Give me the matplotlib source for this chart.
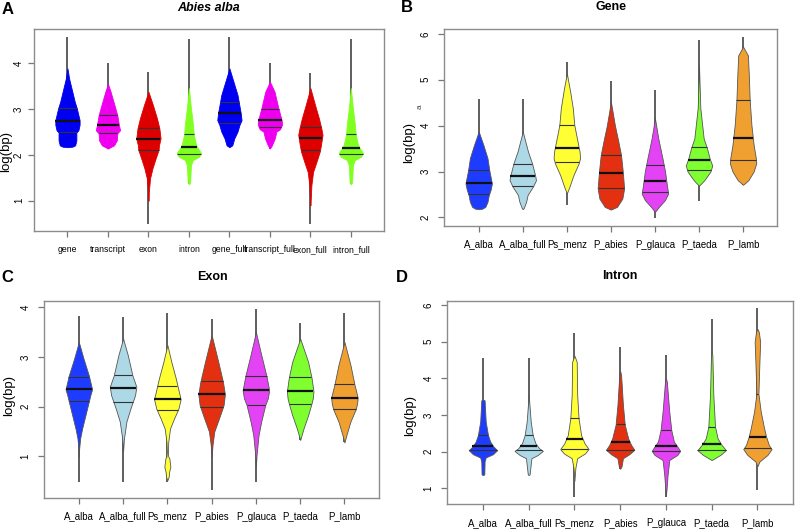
"""Violin plots of feature length distributions (four panels)."""

import matplotlib

matplotlib.use("Agg", force=True)

import matplotlib.pyplot as plt
import numpy as np

plt.rcParams["font.family"] = ["Liberation Sans", "DejaVu Sans"]

# ---- panel A: Abies alba features ----
a_labels = ["gene", "transcript", "exon", "intron", "gene_full", "transcript_full", "exon_full", "intron_full"]
a_colors = ["#0000F0", "#EE00EE", "#DD0000", "#80FF20", "#0000F0", "#EE00EE", "#DD0000", "#80FF20"]
a_range = [(2.17, 4.57), (2.14, 4.00), (0.49, 3.82), (1.36, 4.53), (2.17, 4.57), (2.14, 4.00), (0.49, 3.78), (1.36, 4.53)]
a_quart = [(2.49, 2.74, 3.02), (2.47, 2.66, 2.88), (2.11, 2.35, 2.58), (2.03, 2.17, 2.45),
           (2.69, 2.91, 3.16), (2.60, 2.77, 3.01), (2.11, 2.36, 2.62), (2.02, 2.16, 2.45)]
a_shape = [
    [(3.89, 0), (3.67, 0.04), (3.38, 0.12), (3.16, 0.18), (3.02, 0.23), (2.87, 0.27), (2.76, 0.30), (2.66, 0.30),
     (2.54, 0.27), (2.49, 0.22), (2.32, 0.22), (2.21, 0.19), (2.18, 0.12), (2.17, 0)],
    [(3.55, 0), (3.38, 0.066), (3.09, 0.16), (2.87, 0.23), (2.66, 0.27), (2.54, 0.30), (2.47, 0.23), (2.32, 0.22),
     (2.21, 0.15), (2.14, 0)],
    [(3.38, 0), (3.09, 0.11), (2.80, 0.21), (2.58, 0.27), (2.36, 0.30), (2.21, 0.26), (2.11, 0.25), (1.93, 0.18),
     (1.71, 0.10), (1.49, 0.04), (1.20, 0.01), (1.0, 0)],
    [(3.46, 0), (3.02, 0.05), (2.66, 0.10), (2.44, 0.12), (2.21, 0.18), (2.11, 0.25), (2.04, 0.30), (1.96, 0.25),
     (1.89, 0.10), (1.78, 0.05), (1.40, 0.03), (1.36, 0)],
    [(3.89, 0), (3.60, 0.10), (3.31, 0.20), (3.16, 0.23), (2.91, 0.28), (2.76, 0.30), (2.66, 0.25), (2.51, 0.20),
     (2.36, 0.12), (2.21, 0.07), (2.17, 0)],
    [(3.60, 0), (3.38, 0.115), (3.02, 0.21), (2.76, 0.29), (2.66, 0.30), (2.56, 0.25), (2.51, 0.16), (2.36, 0.12),
     (2.21, 0.05), (2.14, 0)],
    [(3.46, 0), (3.09, 0.115), (2.80, 0.21), (2.58, 0.27), (2.44, 0.30), (2.21, 0.26), (2.07, 0.23), (1.85, 0.15),
     (1.63, 0.066), (1.34, 0.025), (1.05, 0.01), (0.9, 0)],
    [(3.46, 0), (3.02, 0.05), (2.66, 0.10), (2.44, 0.12), (2.21, 0.18), (2.11, 0.25), (2.04, 0.30), (1.96, 0.25),
     (1.89, 0.10), (1.78, 0.05), (1.40, 0.03), (1.36, 0)],
]

# ---- panels B-D: species comparison ----
species = ["A_alba", "A_alba_full", "Ps_menz", "P_abies", "P_glauca", "P_taeda", "P_lamb"]
species_colors = ["#1E3CFF", "#ADD8E6", "#FFFF33", "#E33010", "#E343F5", "#80FF30", "#F0A030"]

b_range = [(2.18, 4.58), (2.18, 4.58), (2.27, 5.38), (2.17, 4.97), (1.98, 4.77), (2.36, 5.87), (2.71, 5.92)]
b_quart = [(2.50, 2.75, 3.03), (2.68, 2.91, 3.16), (3.21, 3.51, 4.01), (2.64, 2.97, 3.37),
           (2.55, 2.79, 3.14), (3.03, 3.24, 3.53), (3.24, 3.72, 4.56)]
b_shape = [
    [(3.87, 0), (3.58, 0.106), (3.29, 0.20), (3.03, 0.24), (2.74, 0.30), (2.60, 0.27), (2.49, 0.23), (2.34, 0.20),
     (2.23, 0.15), (2.19, 0.08), (2.18, 0)],
    [(3.87, 0), (3.43, 0.12), (3.18, 0.21), (2.92, 0.28), (2.81, 0.30), (2.67, 0.23), (2.49, 0.11), (2.34, 0.076),
     (2.20, 0.02), (2.18, 0)],
    [(5.14, 0), (4.74, 0.076), (4.38, 0.136), (4.01, 0.17), (3.72, 0.23), (3.43, 0.29), (3.29, 0.30), (3.18, 0.27),
     (2.92, 0.15), (2.67, 0.06), (2.52, 0)],
    [(4.52, 0), (4.01, 0.09), (3.65, 0.17), (3.36, 0.23), (3.0, 0.27), (2.63, 0.30), (2.41, 0.26), (2.23, 0.14),
     (2.17, 0)],
    [(4.16, 0), (3.72, 0.076), (3.29, 0.17), (3.0, 0.23), (2.71, 0.27), (2.52, 0.30), (2.38, 0.23), (2.23, 0.09),
     (2.12, 0)],
    [(5.32, 0), (4.38, 0.03), (3.72, 0.106), (3.51, 0.18), (3.29, 0.24), (3.13, 0.30), (3.0, 0.26), (2.81, 0.12),
     (2.69, 0)],
    [(5.72, 0), (5.53, 0.11), (5.11, 0.13), (4.56, 0.15), (4.01, 0.19), (3.58, 0.24), (3.29, 0.29), (3.18, 0.30),
     (3.0, 0.24), (2.81, 0.12), (2.71, 0)],
]

c_range = [(0.48, 3.83), (0.48, 3.80), (0.49, 3.89), (0.32, 3.77), (0.49, 3.97), (1.33, 3.69), (1.28, 3.89)]
c_quart = [(2.11, 2.35, 2.59), (2.10, 2.38, 2.63), (1.93, 2.16, 2.42), (2.00, 2.25, 2.52),
           (2.03, 2.33, 2.61), (2.06, 2.31, 2.59), (1.95, 2.18, 2.45)]
c_shape = [
    [(3.30, 0), (2.97, 0.105), (2.63, 0.225), (2.35, 0.30), (2.23, 0.26), (2.10, 0.225), (1.83, 0.15), (1.56, 0.075),
     (1.36, 0.03), (1.16, 0.008), (1.0, 0)],
    [(3.37, 0), (3.04, 0.105), (2.63, 0.21), (2.40, 0.30), (2.23, 0.27), (1.96, 0.165), (1.70, 0.075), (1.36, 0.02),
     (1.1, 0)],
    [(3.24, 0), (2.90, 0.09), (2.57, 0.19), (2.30, 0.26), (2.15, 0.30), (1.96, 0.25), (1.76, 0.15), (1.56, 0.06),
     (1.29, 0.02), (1.09, 0.012), (1.0, 0.02), (0.96, 0.045), (0.79, 0.068), (0.69, 0.04), (0.59, 0.03), (0.52, 0)],
    [(3.44, 0), (2.90, 0.15), (2.50, 0.255), (2.25, 0.30), (2.03, 0.27), (1.76, 0.165), (1.50, 0.06), (1.23, 0.02),
     (1.0, 0)],
    [(3.50, 0), (3.10, 0.105), (2.61, 0.24), (2.33, 0.30), (2.17, 0.27), (2.03, 0.21), (1.70, 0.12), (1.43, 0.06),
     (1.03, 0.015), (0.8, 0)],
    [(3.37, 0), (2.90, 0.18), (2.59, 0.255), (2.31, 0.30), (2.17, 0.285), (2.06, 0.255), (1.83, 0.18), (1.56, 0.075),
     (1.33, 0)],
    [(3.30, 0), (2.84, 0.135), (2.45, 0.225), (2.18, 0.30), (2.06, 0.285), (1.95, 0.255), (1.70, 0.135),
     (1.43, 0.045), (1.28, 0)],
]

d_range = [(1.36, 4.56), (1.36, 4.56), (0.77, 5.25), (1.53, 4.85), (0.77, 4.64), (1.77, 5.62), (0.95, 5.91)]
d_quart = [(2.04, 2.14, 2.45), (2.04, 2.16, 2.45), (2.06, 2.34, 2.93), (2.05, 2.26, 2.75),
           (2.02, 2.16, 2.59), (2.04, 2.21, 2.66), (2.09, 2.41, 3.58)]
d_shape = [
    [(3.42, 0), (3.40, 0.036), (2.82, 0.06), (2.45, 0.11), (2.27, 0.16), (2.14, 0.23), (2.04, 0.31), (1.93, 0.22),
     (1.84, 0.06), (1.73, 0.036), (1.38, 0.03), (1.36, 0)],
    [(3.55, 0), (2.82, 0.044), (2.45, 0.088), (2.23, 0.146), (2.09, 0.23), (2.02, 0.31), (1.91, 0.20), (1.82, 0.06),
     (1.38, 0.02), (1.36, 0)],
    [(4.62, 0), (4.45, 0.05), (3.55, 0.06), (2.91, 0.09), (2.45, 0.146), (2.23, 0.22), (2.07, 0.31), (1.95, 0.23),
     (1.82, 0.06), (1.55, 0.02), (1.2, 0)],
    [(4.20, 0), (4.09, 0.02), (3.27, 0.06), (2.73, 0.10), (2.36, 0.175), (2.18, 0.24), (2.05, 0.31), (1.93, 0.20),
     (1.82, 0.06), (1.6, 0.03), (1.53, 0)],
    [(4.0, 0), (3.91, 0.02), (3.09, 0.073), (2.59, 0.117), (2.27, 0.175), (2.14, 0.25), (2.02, 0.31), (1.91, 0.25),
     (1.77, 0.073), (1.36, 0.036), (1.0, 0.015), (0.8, 0)],
    [(4.7, 0), (4.64, 0.015), (3.55, 0.036), (2.68, 0.073), (2.36, 0.13), (2.18, 0.22), (2.04, 0.31), (1.91, 0.19),
     (1.77, 0)],
    [(5.35, 0), (5.27, 0.03), (5.0, 0.06), (4.45, 0.044), (3.58, 0.022), (3.09, 0.073), (2.64, 0.146), (2.41, 0.19),
     (2.18, 0.25), (2.07, 0.31), (1.91, 0.22), (1.73, 0.044), (1.6, 0)],
]

W, H = 795, 531


def px(x, y):
    """Pixel position (from top-left) to figure fraction."""
    return x / W, 1 - y / H


def draw_violins(ax, labels, colors, ranges, quarts, shapes, edge=None):
    for i, label in enumerate(labels):
        x = i + 1
        lo, hi = ranges[i]
        ax.vlines(x, lo, hi, color="#333333", lw=1.1, zorder=1)
        prof = np.array(sorted(shapes[i]))
        ys, ws = prof[:, 0], prof[:, 1]
        ec = edge if edge is not None else colors[i]
        ax.fill_betweenx(ys, x - ws, x + ws, facecolor=colors[i], edgecolor=ec, lw=0.6, zorder=2)
        q1, med, q3 = quarts[i]
        for q, lw in ((q1, 0.8), (q3, 0.8), (med, 1.6)):
            w = np.interp(q, ys, ws)
            ax.hlines(q, x - w, x + w, color="#111111" if q == med else "#333333", lw=lw, zorder=3)


def style_axes(ax, labels, yticks, ylim, xsize, ypad=6):
    n = len(labels)
    pad = 0.04 * n
    ax.set_xlim(0.5 - pad, n + 0.5 + pad)
    ax.set_ylim(*ylim)
    ax.set_xticks(range(1, n + 1))
    ax.set_xticklabels(labels, fontsize=xsize)
    ax.set_yticks(yticks)
    ax.tick_params(axis="y", labelrotation=90, labelsize=7, pad=ypad)
    ax.tick_params(direction="out", length=4, color="#777777", width=0.9)
    ax.tick_params(axis="x", pad=6)
    for lab in ax.get_yticklabels():
        lab.set_va("center")
    for spine in ax.spines.values():
        spine.set_color("#8c8c8c")
        spine.set_linewidth(1.0)


def add_text(x, y, s, **kw):
    fig.text(*px(x, y), s, ha="center", va="center", **kw)


fig = plt.figure(figsize=(7.95, 5.31), dpi=100)
ax_a = fig.add_axes([0.0431, 0.565, 0.440, 0.380])
ax_b = fig.add_axes([0.5589, 0.575, 0.419, 0.370])
ax_c = fig.add_axes([0.0557, 0.0627, 0.421, 0.371])
ax_d = fig.add_axes([0.5626, 0.0508, 0.435, 0.383])

draw_violins(ax_a, a_labels, a_colors, a_range, a_quart, a_shape)
draw_violins(ax_b, species, species_colors, b_range, b_quart, b_shape, edge="#555555")
draw_violins(ax_c, species, species_colors, c_range, c_quart, c_shape, edge="#555555")
draw_violins(ax_d, species, species_colors, d_range, d_quart, d_shape, edge="#555555")

style_axes(ax_a, a_labels, [1, 2, 3, 4], (0.34, 4.745), 6.2, ypad=3.5)
style_axes(ax_b, species, [2, 3, 4, 5, 6], (1.82, 6.10), 6.9)
style_axes(ax_c, species, [1, 2, 3, 4], (0.17, 4.13), 6.9)
style_axes(ax_d, species, [1, 2, 3, 4, 5, 6], (0.57, 6.12), 6.9)

# panel letters
for (lx, ly), letter in zip([(8, 10), (407, 8), (7, 278), (402, 277)], "ABCD"):
    add_text(lx, ly, letter, fontsize=12, fontweight="bold")

# panel titles
add_text(209, 8, "Abies alba", fontsize=9, fontweight="bold", style="italic")
add_text(611, 7, "Gene", fontsize=9, fontweight="bold")
add_text(212, 277, "Exon", fontsize=9, fontweight="bold")
add_text(620, 276, "Intron", fontsize=9, fontweight="bold")

# y axis labels
for (lx, ly) in [(6, 151), (409, 143), (9, 395), (410, 415)]:
    add_text(lx, ly, "log(bp)", fontsize=9.5, rotation=90)
add_text(420, 107, "a", fontsize=6, rotation=90, color="#444444")

fig.savefig("out.png", dpi=100)
plt.close(fig)
